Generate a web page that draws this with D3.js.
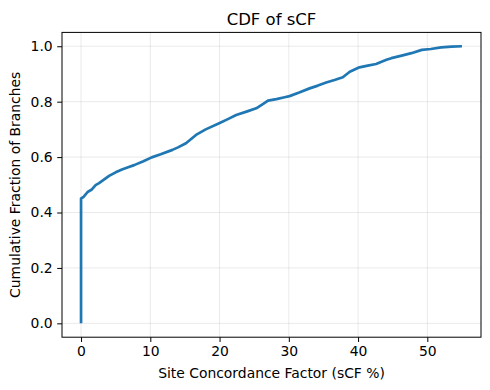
<!DOCTYPE html>
<html>
<head>
<meta charset="utf-8">
<script src="https://cdn.jsdelivr.net/npm/d3@7"></script>
<style>
  html, body { margin: 0; padding: 0; background: #fff; }
  text { font-family: "DejaVu Sans", sans-serif; fill: #000; }
</style>
</head>
<body>
<svg id="chart" width="490" height="390"></svg>
<script>
// ECDF of site concordance factor
const sCF = [0, 0, 0.3, 1.0, 1.5, 2.1, 2.6, 3.1, 3.6, 4.05, 5.0, 6.0, 6.8, 7.67, 9.0, 10.2, 11.5, 13.2, 14.0, 15.15, 16.6, 18.0, 20.1, 21.2, 22.4, 24.0, 25.3, 26.3, 27.0, 28.2, 29.4, 30.1, 31.5, 33.0, 34.2, 35.4, 36.6, 37.8, 38.8, 40.2, 41.4, 42.6, 44.1, 44.8, 46.3, 47.7, 49.2, 50.5, 52.0, 53.5, 55.0];
const cumFrac = [0, 0.451, 0.455, 0.475, 0.482, 0.499, 0.506, 0.515, 0.524, 0.532, 0.545, 0.556, 0.563, 0.571, 0.585, 0.599, 0.61, 0.626, 0.635, 0.65, 0.68, 0.70, 0.724, 0.737, 0.752, 0.765, 0.776, 0.792, 0.804, 0.809, 0.816, 0.82, 0.833, 0.848, 0.858, 0.869, 0.878, 0.888, 0.908, 0.924, 0.930, 0.936, 0.951, 0.957, 0.966, 0.975, 0.987, 0.99, 0.996, 0.999, 1.0];
const xTicks = [0, 10, 20, 30, 40, 50];
const yTicks = [0.0, 0.2, 0.4, 0.6, 0.8, 1.0];
const titleText = "CDF of sCF";
const xLabel = "Site Concordance Factor (sCF %)";
const yLabel = "Cumulative Fraction of Branches";

const svg = d3.select("#chart");
const L = 62, R = 481, T = 32.4, B = 337.2;

const xMin = d3.min(sCF), xMax = d3.max(sCF);
const xPad = (xMax - xMin) * 0.05;
const x = d3.scaleLinear().domain([xMin - xPad, xMax + xPad]).range([L, R]);
const y = d3.scaleLinear().domain([-0.05, 1.05]).range([B, T]);

// grid
const grid = svg.append("g");
grid.selectAll("line.gx").data(xTicks).enter().append("line")
  .attr("x1", d => x(d)).attr("x2", d => x(d)).attr("y1", T).attr("y2", B)
  .attr("stroke", "#b0b0b0").attr("stroke-opacity", 0.3).attr("stroke-width", 0.9);
grid.selectAll("line.gy").data(yTicks).enter().append("line")
  .attr("y1", d => y(d)).attr("y2", d => y(d)).attr("x1", L).attr("x2", R)
  .attr("stroke", "#b0b0b0").attr("stroke-opacity", 0.3).attr("stroke-width", 0.9);

// line
const pts = sCF.map((v, i) => [v, cumFrac[i]]);
svg.append("path").datum(pts)
  .attr("d", d3.line().x(d => x(d[0])).y(d => y(d[1])).curve(d3.curveLinear))
  .attr("fill", "none").attr("stroke", "#1f77b4").attr("stroke-width", 2.7)
  .attr("stroke-linejoin", "round");

// axes
const xAxis = d3.axisBottom(x).tickValues(xTicks).tickFormat(d3.format("d")).tickSize(4.8).tickPadding(4.5);
const yAxis = d3.axisLeft(y).tickValues(yTicks).tickFormat(d3.format(".1f")).tickSize(4.8).tickPadding(4.5);
const gx = svg.append("g").attr("transform", `translate(0,${B})`).call(xAxis);
const gy = svg.append("g").attr("transform", `translate(${L},0)`).call(yAxis);
[gx, gy].forEach(g => {
  g.select(".domain").remove();
  g.selectAll("line").attr("stroke", "#000").attr("stroke-width", 1);
  g.selectAll("text").style("font-size", "13.9px").style("font-family", "DejaVu Sans, sans-serif").attr("fill", "#000");
});

// frame
svg.append("rect").attr("x", L).attr("y", T).attr("width", R - L).attr("height", B - T)
  .attr("fill", "none").attr("stroke", "#000").attr("stroke-width", 1);

// labels
svg.append("text").attr("x", (L + R) / 2).attr("y", 25).attr("text-anchor", "middle")
  .style("font-size", "16.5px").text(titleText);
svg.append("text").attr("x", (L + R) / 2).attr("y", 378).attr("text-anchor", "middle")
  .style("font-size", "13.9px").text(xLabel);
svg.append("text").attr("transform", `translate(20,${(T + B) / 2}) rotate(-90)`).attr("text-anchor", "middle")
  .style("font-size", "13.9px").text(yLabel);
</script>
</body>
</html>
